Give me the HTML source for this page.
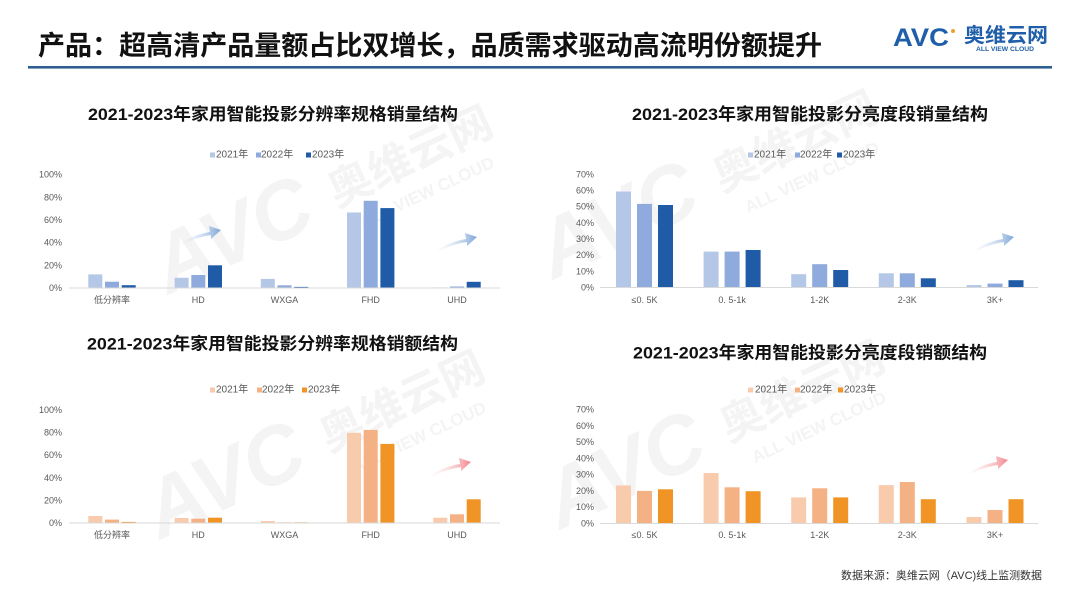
<!DOCTYPE html>
<html><head><meta charset="utf-8">
<style>
html,body{margin:0;padding:0;background:#fff;}
svg{display:block;}
text{font-family:"Liberation Sans","Noto Sans CJK SC",sans-serif;}
.t{font-weight:bold;fill:#111;}
.ax{font-size:9px;fill:#595959;}
.lg{font-size:10px;fill:#595959;}
.wm{fill:#f4f4f4;font-weight:bold;}
</style></head>
<body>
<svg width="1080" height="608" viewBox="0 0 1080 608" xmlns="http://www.w3.org/2000/svg">
<defs>
<linearGradient id="gb" x1="0" y1="0" x2="1" y2="0">
<stop offset="0" stop-color="#ffffff" stop-opacity="0"/><stop offset="1" stop-color="#7ea6d8"/>
</linearGradient>
<linearGradient id="gr" x1="0" y1="0" x2="1" y2="0">
<stop offset="0" stop-color="#ffffff" stop-opacity="0"/><stop offset="1" stop-color="#f3868c"/>
</linearGradient>
<g id="wmk">
<text class="wm" x="0" y="0" font-size="82" font-style="italic">AVC</text>
<text class="wm" x="190" y="-8" font-size="44">奥维云网</text>
<text class="wm" x="205" y="22" font-size="17">ALL VIEW CLOUD</text>
</g>
<path id="arr" d="M0,25 C12,14 24,9 37,7 L36,1 L48,5 L38,14 L38,10 C25,12 12,17 0,25 Z"/>
</defs>
<rect width="1080" height="608" fill="#fff"/>

<!-- watermarks -->
<use href="#wmk" transform="translate(168,295) rotate(-25)"/>
<use href="#wmk" transform="translate(553,280) rotate(-25)"/>
<use href="#wmk" transform="translate(160,540) rotate(-25)"/>
<use href="#wmk" transform="translate(560,530) rotate(-25)"/>

<!-- header -->
<text class="t" x="38" y="55" font-size="27" textLength="784" lengthAdjust="spacingAndGlyphs">产品：超高清产品量额占比双增长，品质需求驱动高流明份额提升</text>
<rect x="28" y="66" width="1024" height="2.6" fill="#2f5f91"/>
<!-- logo -->
<text x="893" y="46" font-size="25" font-weight="bold" fill="#1f5ea8" textLength="56" lengthAdjust="spacingAndGlyphs">AVC</text>
<circle cx="953" cy="31" r="2" fill="#f0a030"/>
<text x="964" y="42" font-size="20" font-weight="bold" fill="#1f5ea8" textLength="84" lengthAdjust="spacingAndGlyphs">奥维云网</text>
<text x="976" y="51" font-size="6.5" font-weight="bold" fill="#1f5ea8" textLength="58" lengthAdjust="spacingAndGlyphs">ALL VIEW CLOUD</text>

<!-- chart titles -->
<text class="t" x="273" y="120" font-size="17" text-anchor="middle" textLength="370" lengthAdjust="spacingAndGlyphs">2021-2023年家用智能投影分辨率规格销量结构</text>
<text class="t" x="810" y="120" font-size="17" text-anchor="middle" textLength="356" lengthAdjust="spacingAndGlyphs">2021-2023年家用智能投影分亮度段销量结构</text>
<text class="t" x="272.5" y="349.5" font-size="17" text-anchor="middle" textLength="371" lengthAdjust="spacingAndGlyphs">2021-2023年家用智能投影分辨率规格销额结构</text>
<text class="t" x="810" y="358.5" font-size="17" text-anchor="middle" textLength="354" lengthAdjust="spacingAndGlyphs">2021-2023年家用智能投影分亮度段销额结构</text>

<!-- ================= TOP LEFT ================= -->
<g>
<rect x="210" y="152.5" width="5" height="5" fill="#b4c7e7"/><text class="lg" x="216" y="155" dominant-baseline="central">2021年</text>
<rect x="256" y="152.5" width="5" height="5" fill="#8faadc"/><text class="lg" x="261" y="155" dominant-baseline="central">2022年</text>
<rect x="306" y="152.5" width="5" height="5" fill="#1f5ba6"/><text class="lg" x="312" y="155" dominant-baseline="central">2023年</text>
<g class="ax" text-anchor="end">
<text x="62" y="288" dominant-baseline="central">0%</text>
<text x="62" y="265.3" dominant-baseline="central">20%</text>
<text x="62" y="242.7" dominant-baseline="central">40%</text>
<text x="62" y="220" dominant-baseline="central">60%</text>
<text x="62" y="197.4" dominant-baseline="central">80%</text>
<text x="62" y="174.7" dominant-baseline="central">100%</text>
</g>
<g fill="#b4c7e7">
<rect x="88.3" y="274.4" width="14" height="13.6"/>
<rect x="174.6" y="277.8" width="14" height="10.2"/>
<rect x="260.8" y="278.9" width="14" height="9.1"/>
<rect x="347" y="212.5" width="14" height="75.5"/>
<rect x="433.3" y="287.4" width="14" height="0.6"/>
</g>
<g fill="#8faadc">
<rect x="105" y="281.7" width="14" height="6.3"/>
<rect x="191.3" y="275" width="14" height="13"/>
<rect x="277.5" y="285.3" width="14" height="2.7"/>
<rect x="363.7" y="200.8" width="14" height="87.2"/>
<rect x="450" y="286.5" width="14" height="1.5"/>
</g>
<g fill="#1f5ba6">
<rect x="121.7" y="285.2" width="14" height="2.8"/>
<rect x="208" y="265.3" width="14" height="22.7"/>
<rect x="294.2" y="286.9" width="14" height="1.1"/>
<rect x="380.4" y="208.1" width="14" height="79.9"/>
<rect x="466.7" y="281.8" width="14" height="6.2"/>
</g>
<rect x="69" y="287.5" width="431" height="1" fill="#d9d9d9"/>
<g class="ax" text-anchor="middle">
<text x="112" y="300" dominant-baseline="central">低分辨率</text>
<text x="198.3" y="300" dominant-baseline="central">HD</text>
<text x="284.5" y="300" dominant-baseline="central">WXGA</text>
<text x="370.7" y="300" dominant-baseline="central">FHD</text>
<text x="457" y="300" dominant-baseline="central">UHD</text>
</g>
<use href="#arr" fill="url(#gb)" transform="translate(173,225)"/>
<use href="#arr" fill="url(#gb)" transform="translate(429,232)"/>
</g>

<!-- ================= TOP RIGHT ================= -->
<g>
<rect x="748" y="152.5" width="5" height="5" fill="#b4c7e7"/><text class="lg" x="754" y="155" dominant-baseline="central">2021年</text>
<rect x="795" y="152.5" width="5" height="5" fill="#8faadc"/><text class="lg" x="800" y="155" dominant-baseline="central">2022年</text>
<rect x="837" y="152.5" width="5" height="5" fill="#1f5ba6"/><text class="lg" x="843" y="155" dominant-baseline="central">2023年</text>
<g class="ax" text-anchor="end">
<text x="594" y="287.5" dominant-baseline="central">0%</text>
<text x="594" y="271.3" dominant-baseline="central">10%</text>
<text x="594" y="255.2" dominant-baseline="central">20%</text>
<text x="594" y="239" dominant-baseline="central">30%</text>
<text x="594" y="222.8" dominant-baseline="central">40%</text>
<text x="594" y="206.7" dominant-baseline="central">50%</text>
<text x="594" y="190.5" dominant-baseline="central">60%</text>
<text x="594" y="174.3" dominant-baseline="central">70%</text>
</g>
<g fill="#b4c7e7">
<rect x="616" y="191.5" width="15" height="96"/>
<rect x="703.6" y="251.6" width="15" height="35.9"/>
<rect x="791.2" y="274.2" width="15" height="13.3"/>
<rect x="878.8" y="273.3" width="15" height="14.2"/>
<rect x="966.5" y="285.1" width="15" height="2.4"/>
</g>
<g fill="#8faadc">
<rect x="637" y="203.9" width="15" height="83.6"/>
<rect x="724.6" y="251.6" width="15" height="35.9"/>
<rect x="812.2" y="264.2" width="15" height="23.3"/>
<rect x="899.8" y="273.3" width="15" height="14.2"/>
<rect x="987.5" y="283.6" width="15" height="3.9"/>
</g>
<g fill="#1f5ba6">
<rect x="658" y="205" width="15" height="82.5"/>
<rect x="745.6" y="250" width="15" height="37.5"/>
<rect x="833.2" y="270" width="15" height="17.5"/>
<rect x="920.8" y="278.3" width="15" height="9.2"/>
<rect x="1008.5" y="280.2" width="15" height="7.3"/>
</g>
<rect x="600" y="287" width="438" height="1" fill="#d9d9d9"/>
<g class="ax" text-anchor="middle">
<text x="644.5" y="300" dominant-baseline="central">≤0. 5K</text>
<text x="732.1" y="300" dominant-baseline="central">0. 5-1k</text>
<text x="819.7" y="300" dominant-baseline="central">1-2K</text>
<text x="907.3" y="300" dominant-baseline="central">2-3K</text>
<text x="995" y="300" dominant-baseline="central">3K+</text>
</g>
<use href="#arr" fill="url(#gb)" transform="translate(966,232)"/>
</g>

<!-- ================= BOTTOM LEFT ================= -->
<g>
<rect x="210" y="387.5" width="5" height="5" fill="#f8cbad"/><text class="lg" x="216" y="390" dominant-baseline="central">2021年</text>
<rect x="257" y="387.5" width="5" height="5" fill="#f4b183"/><text class="lg" x="262" y="390" dominant-baseline="central">2022年</text>
<rect x="302" y="387.5" width="5" height="5" fill="#ef9425"/><text class="lg" x="308" y="390" dominant-baseline="central">2023年</text>
<g class="ax" text-anchor="end">
<text x="62" y="523" dominant-baseline="central">0%</text>
<text x="62" y="500.4" dominant-baseline="central">20%</text>
<text x="62" y="477.8" dominant-baseline="central">40%</text>
<text x="62" y="455.2" dominant-baseline="central">60%</text>
<text x="62" y="432.6" dominant-baseline="central">80%</text>
<text x="62" y="410" dominant-baseline="central">100%</text>
</g>
<g fill="#f8cbad">
<rect x="88.3" y="516" width="14" height="7"/>
<rect x="174.6" y="518" width="14" height="5"/>
<rect x="260.8" y="521" width="14" height="2"/>
<rect x="347" y="432.8" width="14" height="90.2"/>
<rect x="433.3" y="517.7" width="14" height="5.3"/>
</g>
<g fill="#f4b183">
<rect x="105" y="519.6" width="14" height="3.4"/>
<rect x="191.3" y="518.7" width="14" height="4.3"/>
<rect x="277.5" y="522.3" width="14" height="0.7"/>
<rect x="363.7" y="429.9" width="14" height="93.1"/>
<rect x="450" y="514.3" width="14" height="8.7"/>
</g>
<g fill="#ef9425">
<rect x="121.7" y="521.9" width="14" height="1.1"/>
<rect x="208" y="517.7" width="14" height="5.3"/>
<rect x="294.2" y="522.3" width="14" height="0.7"/>
<rect x="380.4" y="443.9" width="14" height="79.1"/>
<rect x="466.7" y="499.3" width="14" height="23.7"/>
</g>
<rect x="69" y="522.5" width="431" height="1" fill="#d9d9d9"/>
<g class="ax" text-anchor="middle">
<text x="112" y="535" dominant-baseline="central">低分辨率</text>
<text x="198.3" y="535" dominant-baseline="central">HD</text>
<text x="284.5" y="535" dominant-baseline="central">WXGA</text>
<text x="370.7" y="535" dominant-baseline="central">FHD</text>
<text x="457" y="535" dominant-baseline="central">UHD</text>
</g>
<use href="#arr" fill="url(#gr)" transform="translate(423,457)"/>
</g>

<!-- ================= BOTTOM RIGHT ================= -->
<g>
<rect x="748" y="387.5" width="5" height="5" fill="#f8cbad"/><text class="lg" x="755" y="390" dominant-baseline="central">2021年</text>
<rect x="795" y="387.5" width="5" height="5" fill="#f4b183"/><text class="lg" x="800" y="390" dominant-baseline="central">2022年</text>
<rect x="838" y="387.5" width="5" height="5" fill="#ef9425"/><text class="lg" x="844" y="390" dominant-baseline="central">2023年</text>
<g class="ax" text-anchor="end">
<text x="594" y="523.5" dominant-baseline="central">0%</text>
<text x="594" y="507.2" dominant-baseline="central">10%</text>
<text x="594" y="490.9" dominant-baseline="central">20%</text>
<text x="594" y="474.6" dominant-baseline="central">30%</text>
<text x="594" y="458.3" dominant-baseline="central">40%</text>
<text x="594" y="442" dominant-baseline="central">50%</text>
<text x="594" y="425.8" dominant-baseline="central">60%</text>
<text x="594" y="409.5" dominant-baseline="central">70%</text>
</g>
<g fill="#f8cbad">
<rect x="616" y="485.4" width="15" height="38.1"/>
<rect x="703.6" y="473" width="15" height="50.5"/>
<rect x="791.2" y="497.4" width="15" height="26.1"/>
<rect x="878.8" y="485.1" width="15" height="38.4"/>
<rect x="966.5" y="517" width="15" height="6.5"/>
</g>
<g fill="#f4b183">
<rect x="637" y="490.9" width="15" height="32.6"/>
<rect x="724.6" y="487.3" width="15" height="36.2"/>
<rect x="812.2" y="488.3" width="15" height="35.2"/>
<rect x="899.8" y="482" width="15" height="41.5"/>
<rect x="987.5" y="510" width="15" height="13.5"/>
</g>
<g fill="#ef9425">
<rect x="658" y="489.3" width="15" height="34.2"/>
<rect x="745.6" y="491.2" width="15" height="32.3"/>
<rect x="833.2" y="497.4" width="15" height="26.1"/>
<rect x="920.8" y="499.2" width="15" height="24.3"/>
<rect x="1008.5" y="499.2" width="15" height="24.3"/>
</g>
<rect x="600" y="523" width="438" height="1" fill="#d9d9d9"/>
<g class="ax" text-anchor="middle">
<text x="644.5" y="535" dominant-baseline="central">≤0. 5K</text>
<text x="732.1" y="535" dominant-baseline="central">0. 5-1k</text>
<text x="819.7" y="535" dominant-baseline="central">1-2K</text>
<text x="907.3" y="535" dominant-baseline="central">2-3K</text>
<text x="995" y="535" dominant-baseline="central">3K+</text>
</g>
<use href="#arr" fill="url(#gr)" transform="translate(960,455)"/>
</g>

<!-- source -->
<text x="841" y="579" font-size="11" fill="#333" textLength="201" lengthAdjust="spacingAndGlyphs">数据来源：奥维云网（AVC)线上监测数据</text>
</svg>
</body></html>
